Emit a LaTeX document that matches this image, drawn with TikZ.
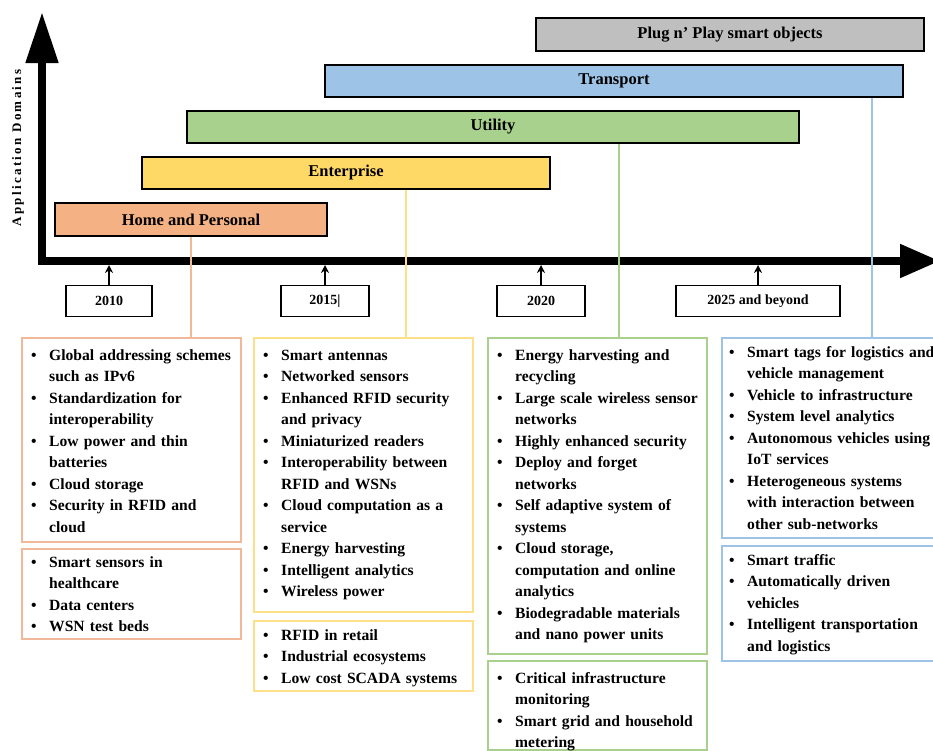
\documentclass[tikz,border=0pt]{standalone}
\usepackage{fontspec}
\setmainfont{Liberation Serif}
\usetikzlibrary{arrows.meta,calc}

\definecolor{hpfill}{HTML}{F4B183}
\definecolor{entfill}{HTML}{FFD966}
\definecolor{utilfill}{HTML}{A9D18E}
\definecolor{trfill}{HTML}{9DC3E6}
\definecolor{plugfill}{HTML}{BFBFBF}
\definecolor{hpline}{HTML}{F2B89A}
\definecolor{entline}{HTML}{FFE08A}
\definecolor{utilline}{HTML}{A9D18E}
\definecolor{trline}{HTML}{9DC3E6}

% one bulleted entry with a hanging indent; lines are broken by hand
\newcommand\bitem[1]{\noindent\hangindent=19pt\hangafter=1\strut\makebox[19pt][l]{\hspace{1pt}\textbullet}#1\par}

\tikzset{
  domainbar/.style={draw=black, line width=2pt, inner sep=0pt,
    font=\fontsize{16.5}{18}\selectfont\bfseries},
  listbox/.style={line width=2.2pt, minimum width=219pt, anchor=north west,
    inner sep=0pt},
  listtext/.style={anchor=north west, inner sep=0pt, text width=215pt,
    align=left, font=\fontsize{15.6}{21.5}\selectfont\bfseries},
  yearbox/.style={draw=black, line width=1.4pt, minimum height=31pt,
    inner sep=0pt, font=\fontsize{14}{16}\selectfont\bfseries},
  conn/.style={line width=2pt},
  tick/.style={line width=2.6pt, -{Stealth[length=8pt,width=8pt]}},
}

\begin{document}
\begin{tikzpicture}[x=1pt, y=-1pt]
\useasboundingbox[fill=white] (0,0) rectangle (933,750);

% domain bars
\node[domainbar, fill=plugfill, minimum width=388pt, minimum height=33pt] (plug) at (730,34.5) {Plug n' Play smart objects};
\node[domainbar, fill=trfill, minimum width=578pt, minimum height=32pt] (tr) at (614,81) {Transport};
\node[domainbar, fill=utilfill, minimum width=612pt, minimum height=32pt] (ut) at (493,127) {Utility};
\node[domainbar, fill=entfill, minimum width=408pt, minimum height=32pt] (en) at (346,173) {Enterprise};
\node[domainbar, fill=hpfill, minimum width=272pt, minimum height=33pt] (hp) at (191,219.5) {Home and Personal};

% axes
\coordinate (ytip) at (42,12);
\coordinate (orig) at (42,261);
\coordinate (xtip) at (940,261);
\coordinate (axb) at (0,265);
\draw[line width=8pt, line join=miter,
  {Triangle[length=51pt,width=31pt]}-{Triangle[length=40pt,width=32pt]}]
  (ytip) -- (orig) -- (xtip);
\node[rotate=90, font=\fontsize{13}{15}\selectfont\bfseries\addfontfeatures{LetterSpace=18}] (ylab) at (18,148) {Application Domains};

% years
\node[yearbox, minimum width=86pt] (y2010) at (109,301) {2010};
\node[yearbox, minimum width=88pt] (y2015) at (325,301) {2015|};
\node[yearbox, minimum width=88pt] (y2020) at (541,301) {2020};
\node[yearbox, minimum width=164pt] (y2025) at (758,301) {2025 and beyond};
\foreach \y in {y2010,y2015,y2020,y2025}
  \draw[tick] (\y.north) -- (\y.north |- axb);

% list boxes
\node[listbox, draw=hpline, minimum height=204pt] (hp1) at (21,337) {};
\node[listbox, draw=hpline, minimum height=90pt] (hp2) at (21,548) {};
\node[listbox, draw=entline, minimum height=274pt] (en1) at (253,337) {};
\node[listbox, draw=entline, minimum height=70pt] (en2) at (253,620) {};
\node[listbox, draw=utilline, minimum height=316pt] (ut1) at (487,337) {};
\node[listbox, draw=utilline, minimum height=89pt] (ut2) at (487,660) {};
\node[listbox, draw=trline, minimum width=226pt, minimum height=200pt] (tr1) at (721,337) {};
\node[listbox, draw=trline, minimum width=226pt, minimum height=115pt] (tr2) at (721,545) {};

% connectors from the bars to their lists
\coordinate (c2) at (406,0);
\coordinate (c3) at (619,0);
\coordinate (c4) at (872,0);
\draw[conn, draw=hpline] (hp.south) -- (hp.south |- hp1.north);
\draw[conn, draw=entline] (en.south -| c2) -- (c2 |- en1.north);
\draw[conn, draw=utilline] (ut.south -| c3) -- (c3 |- ut1.north);
\draw[conn, draw=trline] (tr.south -| c4) -- (c4 |- tr1.north);

% list contents
\node[listtext] (hp1t) at ([shift={(9,8)}]hp1.north west) {%
\bitem{Global addressing schemes\newline such as IPv6}
\bitem{Standardization for\newline interoperability}
\bitem{Low power and thin\newline batteries}
\bitem{Cloud storage}
\bitem{Security in RFID and\newline cloud}};
\node[listtext] (hp2t) at ([shift={(9,4)}]hp2.north west) {%
\bitem{Smart sensors in\newline healthcare}
\bitem{Data centers}
\bitem{WSN test beds}};
\node[listtext] (en1t) at ([shift={(9,8)}]en1.north west) {%
\bitem{Smart antennas}
\bitem{Networked sensors}
\bitem{Enhanced RFID security\newline and privacy}
\bitem{Miniaturized readers}
\bitem{Interoperability between\newline RFID and WSNs}
\bitem{Cloud computation as a\newline service}
\bitem{Energy harvesting}
\bitem{Intelligent analytics}
\bitem{Wireless power}};
\node[listtext] (en2t) at ([shift={(9,5)}]en2.north west) {%
\bitem{RFID in retail}
\bitem{Industrial ecosystems}
\bitem{Low cost SCADA systems}};
\node[listtext] (ut1t) at ([shift={(9,8)}]ut1.north west) {%
\bitem{Energy harvesting and\newline recycling}
\bitem{Large scale wireless sensor\newline networks}
\bitem{Highly enhanced security}
\bitem{Deploy and forget\newline networks}
\bitem{Self adaptive system of\newline systems}
\bitem{Cloud storage,\newline computation and online\newline analytics}
\bitem{Biodegradable materials\newline and nano power units}};
\node[listtext] (ut2t) at ([shift={(9,8)}]ut2.north west) {%
\bitem{Critical infrastructure\newline monitoring}
\bitem{Smart grid and household\newline metering}};
\node[listtext] (tr1t) at ([shift={(7,5)}]tr1.north west) {%
\bitem{Smart tags for logistics and\newline vehicle management}
\bitem{Vehicle to infrastructure}
\bitem{System level analytics}
\bitem{Autonomous vehicles using\newline IoT services}
\bitem{Heterogeneous systems\newline with interaction between\newline other sub-networks}};
\node[listtext] (tr2t) at ([shift={(7,5)}]tr2.north west) {%
\bitem{Smart traffic}
\bitem{Automatically driven\newline vehicles}
\bitem{Intelligent transportation\newline and logistics}};
\end{tikzpicture}
\end{document}
